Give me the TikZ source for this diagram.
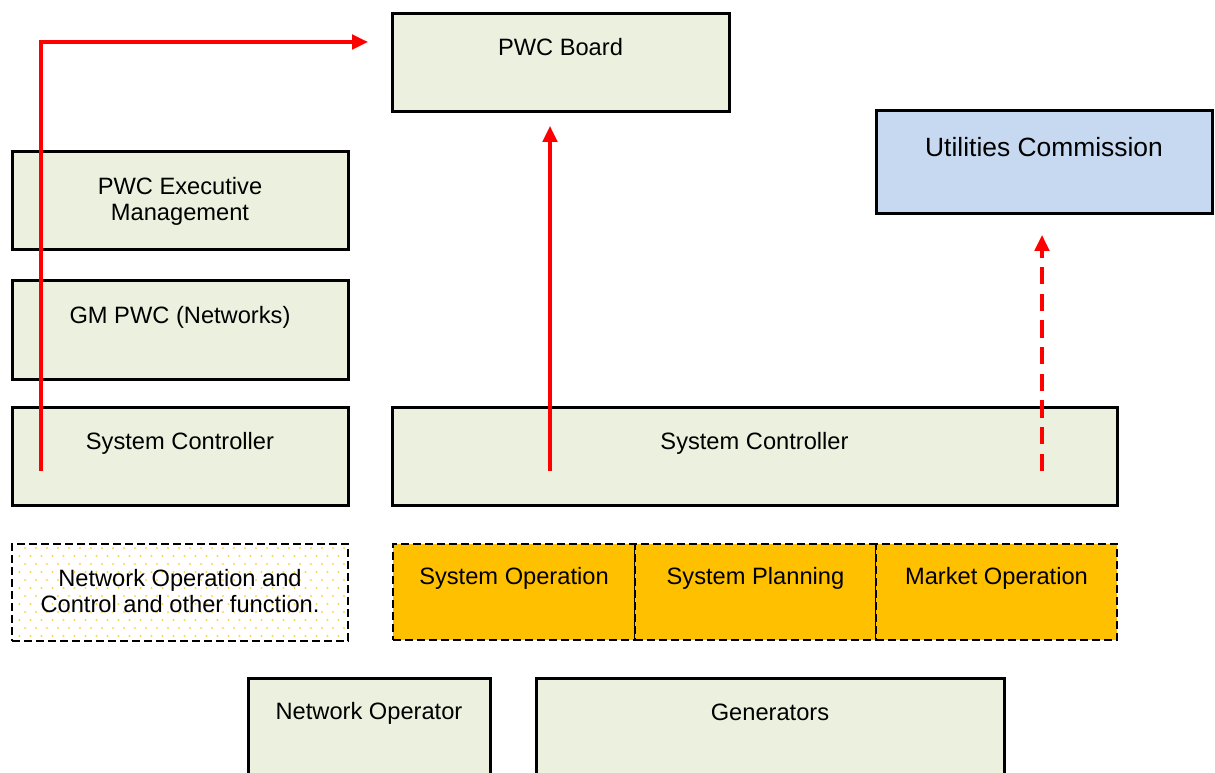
\documentclass[tikz,border=0pt]{standalone}
\usepackage{fontspec}
\setmainfont{Liberation Sans}
\usetikzlibrary{arrows.meta,calc}
\definecolor{boxgreen}{HTML}{EBF1DE}
\definecolor{boxblue}{HTML}{C6D9F1}
\definecolor{boxorange}{HTML}{FFC000}
\definecolor{dotyellow}{HTML}{FFD54F}
\definecolor{arrowred}{HTML}{FF0000}
\begin{document}
\begin{tikzpicture}[x=0.75pt,y=-0.75pt,
  gbox/.style={draw=black,line width=2.25pt,fill=boxgreen,inner sep=0pt},
  bbox/.style={draw=black,line width=2.25pt,fill=boxblue,inner sep=0pt},
  obox/.style={draw=black,line width=1.3pt,dash pattern=on 6pt off 3pt,fill=boxorange,inner sep=0pt},
  dbox/.style={draw=black,line width=1.3pt,dash pattern=on 6pt off 3pt,inner sep=0pt},
  txt/.style={font=\fontsize{17.75}{19.5}\selectfont,align=center,inner sep=0pt},
  bigtxt/.style={font=\fontsize{19.8}{23}\selectfont,align=center,inner sep=0pt},
  redarrow/.style={draw=arrowred,line width=2.4pt,-{Triangle[length=12pt,width=11pt]}},
  reddash/.style={draw=arrowred,line width=2.4pt,dash pattern=on 13pt off 7pt,-{Triangle[length=12pt,width=11pt]}}
]
\useasboundingbox (0,0) rectangle (1215,773);
\clip (0,0) rectangle (1215,773);

% top boxes
\node[gbox,minimum width=252.75pt,minimum height=73.5pt] (pwcb) at (560.5,63) {};
\node[txt] (pwcbT) at ($(pwcb.north)+(0,35)$) {PWC Board};

\node[bbox,minimum width=252pt,minimum height=77.25pt] (util) at (1044,162.5) {};
\node[bigtxt] (utilT) at ($(util.north)+(0,38)$) {Utilities Commission};

% left column
\node[gbox,minimum width=252pt,minimum height=73.5pt] (exec) at (180,201) {};
\node[txt] (execT) at ($(exec.north)+(0,51)$) {PWC Executive\\Management};

\node[gbox,minimum width=252pt,minimum height=74.25pt] (gm) at (180,330.5) {};
\node[txt] (gmT) at ($(gm.north)+(0,38)$) {GM PWC (Networks)};

\node[gbox,minimum width=252pt,minimum height=73.5pt] (scl) at (180,457) {};
\node[txt] (sclT) at ($(scl.north)+(0,37)$) {System Controller};

\node[gbox,minimum width=543.75pt,minimum height=73.5pt] (scr) at (754.5,457) {};
\node[txt] (scrT) at ($(scr.north)+(0,37)$) {System Controller};

% dotted box
\node[minimum width=252pt,minimum height=72.75pt,inner sep=0pt] (nocf) at (180,592.5) {};
\begin{scope}
  \clip ($(nocf.north west)+(3,3)$) rectangle ($(nocf.south east)+(-3,-3)$);
  \foreach \j in {0,...,12}{
    \foreach \i in {0,...,31}{
      \pgfmathsetmacro{\xx}{14+11*\i+5.5*mod(\j,2)}
      \pgfmathsetmacro{\yy}{548+8*\j}
      \fill[dotyellow] (\xx,\yy) circle[radius=1.1];
    }
  }
\end{scope}
\node[dbox,minimum width=252pt,minimum height=72.75pt] (nocfB) at (180,592.5) {};
\node[txt] (nocfT) at ($(nocf.north)+(0,47)$) {Network Operation and\\Control and other function.};

% orange boxes
\node[obox,minimum width=181.5pt,minimum height=72pt] (sop) at (514,592) {};
\node[txt] (sopT) at ($(sop.north)+(0,35)$) {System Operation};
\node[obox,minimum width=180.75pt,minimum height=72pt] (spl) at (755.5,592) {};
\node[txt] (splT) at ($(spl.north)+(0,35)$) {System Planning};
\node[obox,minimum width=180.75pt,minimum height=72pt] (mop) at (996.5,592) {};
\node[txt] (mopT) at ($(mop.north)+(0,35)$) {Market Operation};

% bottom boxes (cut off)
\node[gbox,minimum width=181.5pt,minimum height=91.5pt] (netop) at (369,739) {};
\node[txt] (netopT) at ($(netop.north)+(0,37)$) {Network Operator};
\node[gbox,minimum width=351pt,minimum height=91.5pt] (gen) at (770,739) {};
\node[txt] (genT) at ($(gen.north)+(0,36)$) {Generators};

% arrows
\coordinate (s1) at (41,471);
\coordinate (e1) at (368,42);
\draw[redarrow] (s1) |- (e1);

\coordinate (s2) at (550,471);
\coordinate (e2) at (550,126);
\draw[redarrow] (s2) -- (e2);

\coordinate (s3) at (1042,471);
\coordinate (e3) at (1042,235);
\draw[reddash] (s3) -- (e3);
\end{tikzpicture}
\end{document}
